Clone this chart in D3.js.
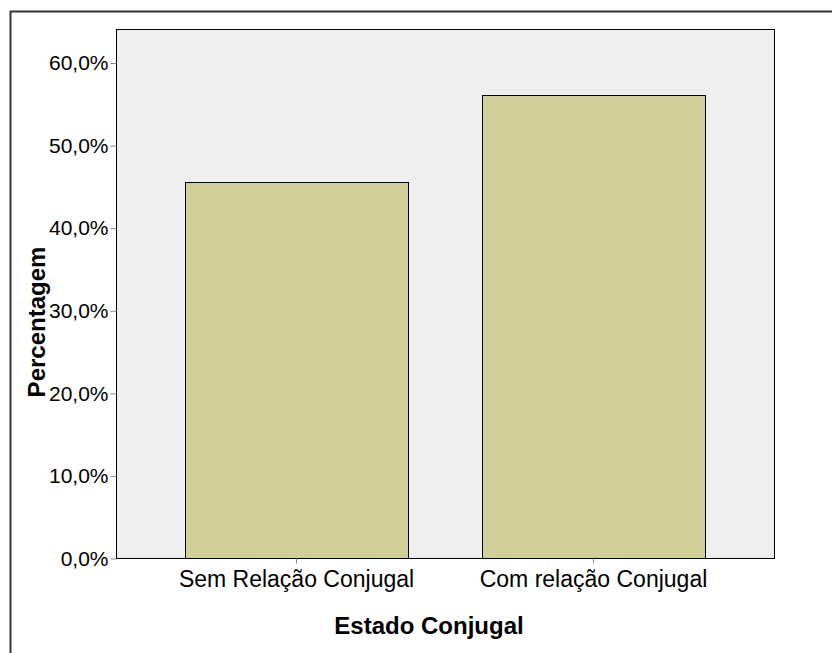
<!DOCTYPE html>
<html><head><meta charset="utf-8">
<script src="https://cdn.jsdelivr.net/npm/d3@7"></script>
<style>html,body{margin:0;padding:0;background:#fff;}svg{display:block;font-family:"Liberation Sans",Arial,sans-serif;}</style>
</head><body>
<script>
const categories = ["Sem Relação Conjugal", "Com relação Conjugal"];
const values = [45.6, 56.1];
const yTicks = [0, 10, 20, 30, 40, 50, 60];
const xTitle = "Estado Conjugal";
const yTitle = "Percentagem";

const W = 832, H = 653;
const svg = d3.select("body").append("svg").attr("width", W).attr("height", H);

// outer frame
svg.append("rect").attr("x", 10.5).attr("y", 11.5).attr("width", W).attr("height", H)
  .attr("fill", "none").attr("stroke", "#333").attr("stroke-width", 2);

const plot = {left: 116.5, top: 29.5, right: 774.5, bottom: 558.5};
const y = d3.scaleLinear().domain([0, 60]).range([plot.bottom, 63]);
const x = d3.scaleBand().domain(categories).range([148, 742]).paddingInner(0.25).paddingOuter(0.125);

svg.append("rect").attr("x", plot.left).attr("y", plot.top)
  .attr("width", plot.right - plot.left).attr("height", plot.bottom - plot.top)
  .attr("fill", "#efefef").attr("stroke", "#000").attr("stroke-width", 1);

svg.selectAll("rect.bar").data(values).join("rect").attr("class", "bar")
  .attr("x", (d, i) => Math.round(x(categories[i])) + 0.5)
  .attr("y", d => Math.round(y(d)) + 0.5)
  .attr("width", Math.round(x.bandwidth()))
  .attr("height", d => plot.bottom - Math.round(y(d)) - 0.5)
  .attr("fill", "#d2ce98").attr("stroke", "#000").attr("stroke-width", 1);

// y axis
const yAxis = d3.axisLeft(y).tickValues(yTicks).tickSize(6).tickPadding(2)
  .tickFormat(d => d3.format(".1f")(d).replace(".", ",") + "%");
const gy = svg.append("g").attr("transform", `translate(${plot.left},0)`).call(yAxis);
gy.select(".domain").remove();
gy.selectAll("line").attr("stroke", "#888");
gy.selectAll("text").attr("font-size", 21).attr("fill", "#000").attr("font-family", "Liberation Sans, Arial, sans-serif");

// x axis
const xAxis = d3.axisBottom(x).tickSize(5).tickPadding(7);
const gx = svg.append("g").attr("transform", `translate(0,${plot.bottom})`).call(xAxis);
gx.select(".domain").remove();
gx.selectAll("line").attr("stroke", "#888");
gx.selectAll("text").attr("font-size", 23).attr("fill", "#000").attr("font-family", "Liberation Sans, Arial, sans-serif");

svg.append("text").attr("x", 429).attr("y", 634).attr("text-anchor", "middle")
  .attr("font-size", 24).attr("font-weight", "bold").text(xTitle);
svg.append("text").attr("transform", "translate(45,322) rotate(-90)").attr("text-anchor", "middle")
  .attr("font-size", 24).attr("font-weight", "bold").text(yTitle);
</script>
</body></html>
